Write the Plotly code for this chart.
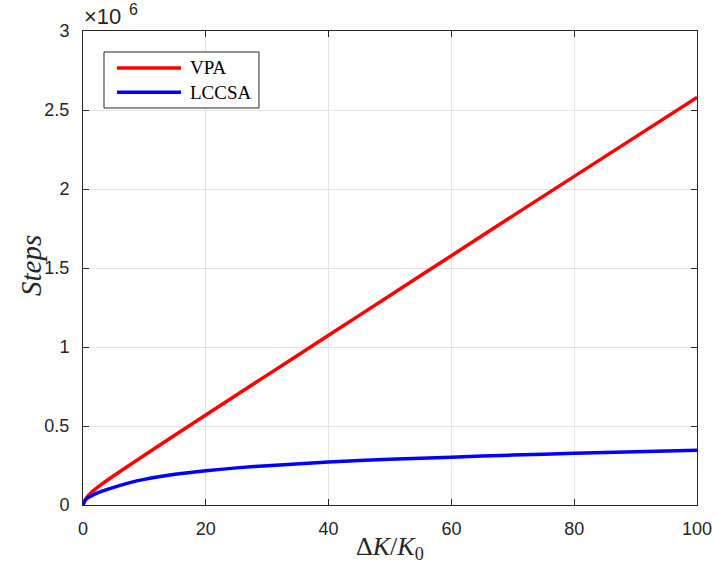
import plotly.graph_objects as go

# Data (y in units of 1e6 steps)
vpa_x = [0, 0.5, 1, 2, 3, 5, 7.5, 10, 15, 20, 30, 40, 50, 60, 70, 80, 90, 100]
vpa_y = [0, 0.04, 0.065, 0.1, 0.13, 0.185, 0.25, 0.315, 0.443, 0.57, 0.822, 1.074, 1.326, 1.578, 1.83, 2.08, 2.33, 2.58]

lccsa_x = [0, 0.25, 0.5, 1, 2, 3, 5, 7.5, 10, 15, 20, 25, 30, 40, 50, 60, 70, 80, 90, 100]
lccsa_y = [0, 0.025, 0.036, 0.05, 0.07, 0.086, 0.112, 0.14, 0.162, 0.194, 0.217, 0.235, 0.249, 0.272, 0.289, 0.303, 0.316, 0.327, 0.337, 0.346]

series_names = ["VPA", "LCCSA"]
series_colors = ["#ff0000", "#0000ff"]

x_ticks = [0, 20, 40, 60, 80, 100]
y_ticks = [0, 0.5, 1, 1.5, 2, 2.5, 3]
y_ticktext = ["0", "0.5", "1", "1.5", "2", "2.5", "3"]

axis_col = "#262626"
grid_col = "#e3e3e3"
serif = "Liberation Serif, Times New Roman, serif"
sans = "Liberation Sans, Arial, sans-serif"

fig = go.Figure()
fig.add_trace(go.Scatter(x=vpa_x, y=vpa_y, mode="lines", name=series_names[0],
                         line=dict(color=series_colors[0], width=3.5, shape="spline", smoothing=0.8)))
fig.add_trace(go.Scatter(x=lccsa_x, y=lccsa_y, mode="lines", name=series_names[1],
                         line=dict(color=series_colors[1], width=3.5, shape="spline", smoothing=0.8)))

fig.update_layout(
    width=715, height=571,
    margin=dict(l=83, r=18, t=31, b=66),
    paper_bgcolor="white", plot_bgcolor="white",
    font=dict(family=sans, size=18, color=axis_col),
    showlegend=False,
    xaxis=dict(range=[0, 100], tickvals=x_ticks, ticks="inside", ticklen=6,
               tickcolor=axis_col, showline=True, linecolor=axis_col, linewidth=1,
               mirror="ticks", showgrid=True, gridcolor=grid_col, gridwidth=1,
               zeroline=False, tickfont=dict(size=18), automargin=False,
               ticklabelstandoff=7),
    yaxis=dict(range=[0, 3], tickvals=y_ticks, ticktext=y_ticktext, ticks="inside", ticklen=6,
               tickcolor=axis_col, showline=True, linecolor=axis_col, linewidth=1,
               mirror="ticks", showgrid=True, gridcolor=grid_col, gridwidth=1,
               zeroline=False, tickfont=dict(size=18), automargin=False,
               ticklabelstandoff=9),
)

# axis titles
fig.add_annotation(xref="paper", yref="paper", x=0.5, y=-0.091, xanchor="center", yanchor="middle",
                   text="Δ<i>K</i>/<i>K</i><sub>0</sub>", showarrow=False,
                   font=dict(family=serif, size=26, color=axis_col))
fig.add_annotation(xref="paper", yref="paper", x=-0.085, y=0.506, xanchor="center", yanchor="middle",
                   text="<i>Steps</i>", showarrow=False, textangle=-90,
                   font=dict(family=serif, size=29, color=axis_col))

# exponent label
fig.add_annotation(xref="paper", yref="paper", x=-0.002, y=1.03, xanchor="left", yanchor="middle",
                   text="×10", showarrow=False, font=dict(family=sans, size=22, color=axis_col))
fig.add_annotation(xref="paper", yref="paper", x=0.072, y=1.046, xanchor="left", yanchor="middle",
                   text="6", showarrow=False, font=dict(family=sans, size=16, color=axis_col))

# legend box (drawn manually to match the long line samples)
fig.add_shape(type="rect", xref="paper", yref="paper", x0=0.0342, x1=0.2866, y0=0.8376, y1=0.9557,
              line=dict(color=axis_col, width=1), fillcolor="white", layer="above")
leg_y = [0.922, 0.871]
for name, col, yy in zip(series_names, series_colors, leg_y):
    fig.add_shape(type="line", xref="paper", yref="paper", x0=0.0554, x1=0.1596, y0=yy, y1=yy,
                  line=dict(color=col, width=3.5), layer="above")
    fig.add_annotation(xref="paper", yref="paper", x=0.171, y=yy, xanchor="left", yanchor="middle",
                       text=name, showarrow=False, font=dict(family=serif, size=19, color="black"))

fig.write_html("out.html")
